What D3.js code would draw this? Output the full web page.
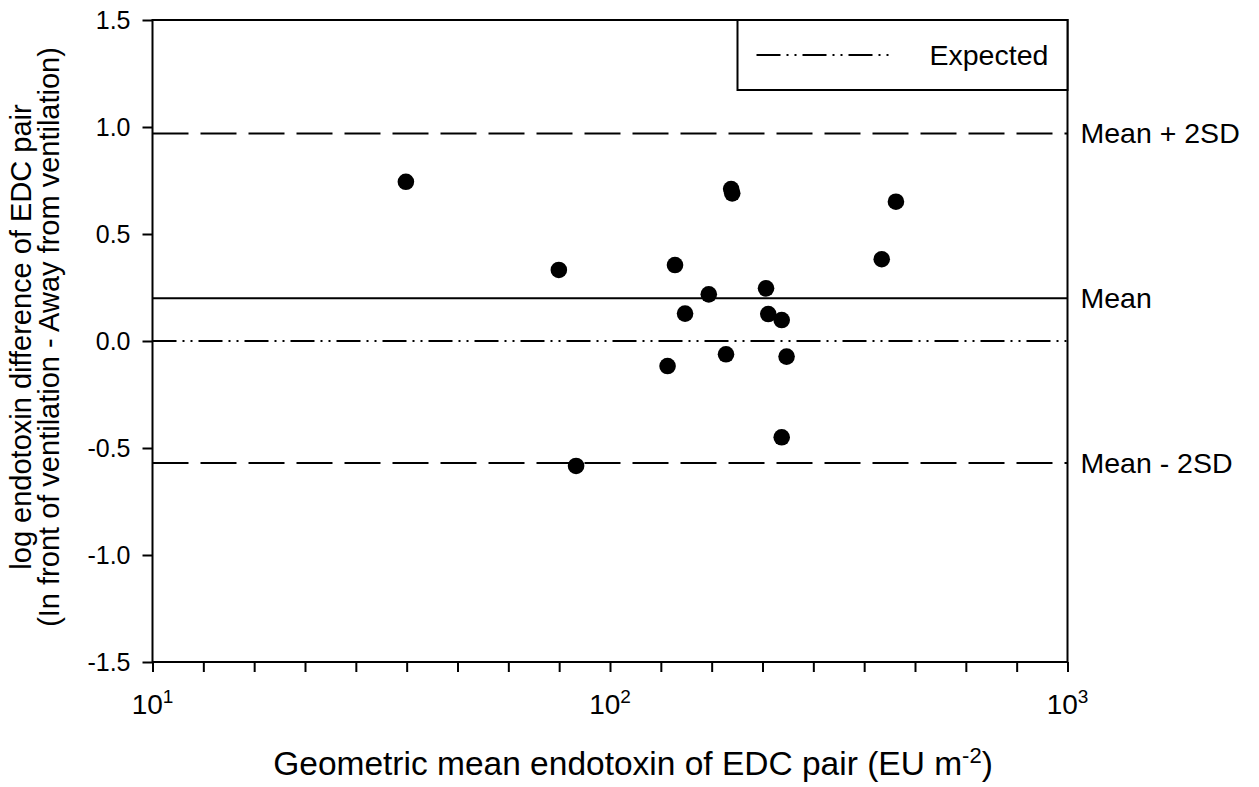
<!DOCTYPE html>
<html>
  <head>
    <meta charset="utf-8">
    <title>Endotoxin Bland-Altman plot</title>
    <script src="https://cdnjs.cloudflare.com/ajax/libs/d3/7.8.5/d3.min.js"></script>
    <style>
      body { margin: 0; background: #fff; }
      text { font-family: Arial, "Liberation Sans", sans-serif; fill: #000; }
    </style>
  </head>
  <body>

    <svg class="chart" width="1259" height="787"></svg>

    <script>

      // geometric mean endotoxin of each EDC pair (EU m-2)
      var geoMean = [35.8, 77.3, 184, 185, 138.7, 164.4, 145.9, 219.3, 221.8,
                     133.6, 179.3, 84.3, 237.3, 243.2, 237.3, 392.6, 421.7];
      // log difference (in front of ventilation - away from ventilation)
      var logDiff = [0.744, 0.332, 0.71, 0.69, 0.355, 0.218, 0.128, 0.246, 0.126,
                     -0.117, -0.062, -0.584, 0.098, -0.073, -0.45, 0.382, 0.651];

      var refNames  = ["Mean + 2SD", "Mean", "Mean - 2SD"];
      var refValues = [0.97, 0.2, -0.57];
      var expected = 0;

      var yTicks = [-1.5, -1.0, -0.5, 0.0, 0.5, 1.0, 1.5];
      var xDecades = [1, 2, 3];

      var margin = { left: 152.5, top: 20, right: 1259 - 1067.5, bottom: 787 - 662 };
      var W = 1259 - margin.left - margin.right;
      var H = 787 - margin.top - margin.bottom;

      var x = d3.scaleLog().domain([10, 1000]).range([0, W]);
      var y = d3.scaleLinear().domain([-1.5, 1.5]).range([H, 0]);

      var svg = d3.select("svg.chart");
      var g = svg.append("g")
        .attr("transform", "translate(" + margin.left + "," + margin.top + ")");

      // reference lines
      var dashFor = ["36,12", null, "36,12"];
      g.selectAll("line.ref")
        .data(refValues)
        .enter()
          .append("line")
            .attr("class", "ref")
            .attr("x1", 0).attr("x2", W)
            .attr("y1", function(d){ return y(d); })
            .attr("y2", function(d){ return y(d); })
            .attr("stroke", "#000")
            .attr("stroke-width", 2)
            .attr("stroke-dasharray", function(d, i){ return dashFor[i]; });

      g.append("line")
        .attr("x1", 0).attr("x2", W)
        .attr("y1", y(expected)).attr("y2", y(expected))
        .attr("stroke", "#000")
        .attr("stroke-width", 2)
        .attr("stroke-dasharray", "24,6,2,6,2,6");

      g.selectAll("text.ref")
        .data(refValues)
        .enter()
          .append("text")
            .attr("class", "ref")
            .attr("x", W + 13)
            .attr("y", function(d){ return y(d) + 10; })
            .attr("font-size", 28.5)
            .text(function(d, i){ return refNames[i]; });

      // points
      g.selectAll("circle.pt")
        .data(geoMean)
        .enter()
          .append("circle")
            .attr("class", "pt")
            .attr("cx", function(d){ return x(d); })
            .attr("cy", function(d, i){ return y(logDiff[i]); })
            .attr("r", 8.3)
            .attr("fill", "#000");

      // frame
      g.append("rect")
        .attr("width", W).attr("height", H)
        .attr("fill", "none")
        .attr("stroke", "#000")
        .attr("stroke-width", 2);

      // y axis
      var yAxis = d3.axisLeft(y)
        .tickValues(yTicks)
        .tickSize(10)
        .tickPadding(12)
        .tickFormat(d3.format(".1f"));
      var ya = g.append("g").call(yAxis);
      ya.select(".domain").remove();
      ya.selectAll("line").attr("stroke-width", 2);
      ya.selectAll("text")
        .attr("font-size", 25)
        .attr("font-family", null)
        .text(function(d){ return d3.format(".1f")(d).replace("−", "-"); });

      // x axis: SigmaPlot-style ticks, nine equal steps per decade
      var xTickVals = [];
      xDecades.slice(0, -1).forEach(function(dec){
        for (var k = 0; k < 9; k++) xTickVals.push(Math.pow(10, dec + k / 9));
      });
      xTickVals.push(1000);

      var xAxis = d3.axisBottom(x)
        .tickValues(xTickVals)
        .tickSize(10)
        .tickFormat("");
      var xa = g.append("g")
        .attr("transform", "translate(0," + H + ")")
        .call(xAxis);
      xa.select(".domain").remove();
      xa.selectAll("line").attr("stroke-width", 2);

      var xl = g.selectAll("text.xlab")
        .data(xDecades)
        .enter()
          .append("text")
            .attr("class", "xlab")
            .attr("x", function(d){ return x(Math.pow(10, d)); })
            .attr("y", H + 52)
            .attr("font-size", 28)
            .attr("text-anchor", "middle");
      xl.append("tspan").text("10");
      xl.append("tspan")
        .attr("dy", -11)
        .attr("font-size", 19)
        .text(function(d){ return d; });

      // legend
      var lg = g.append("g").attr("transform", "translate(" + (737.5 - margin.left) + ",0)");
      lg.append("rect")
        .attr("width", W - (737.5 - margin.left)).attr("height", 70)
        .attr("fill", "#fff")
        .attr("stroke", "#000")
        .attr("stroke-width", 2);
      lg.append("line")
        .attr("x1", 19).attr("x2", 152)
        .attr("y1", 35).attr("y2", 35)
        .attr("stroke", "#000")
        .attr("stroke-width", 2)
        .attr("stroke-dasharray", "24,6,2,6,2,6");
      lg.append("text")
        .attr("x", 192).attr("y", 45)
        .attr("font-size", 28.5)
        .text("Expected");

      // axis titles
      var xt = svg.append("text")
        .attr("x", 633)
        .attr("y", 775)
        .attr("font-size", 33.5)
        .attr("text-anchor", "middle");
      xt.append("tspan").text("Geometric mean endotoxin of EDC pair (EU m");
      xt.append("tspan").attr("dy", -12).attr("font-size", 22).text("-2");
      xt.append("tspan").attr("dy", 12).text(")");

      var yt = svg.append("text")
        .attr("transform", "translate(31," + (margin.top + H / 2 - 4) + ") rotate(-90)")
        .attr("font-size", 29)
        .attr("text-anchor", "middle");
      yt.append("tspan").attr("x", 0).attr("dy", 0).text("log endotoxin difference of EDC pair");
      yt.append("tspan").attr("x", 0).attr("dy", 28).text("(In front of ventilation - Away from ventilation)");

    </script>
  </body>
</html>
